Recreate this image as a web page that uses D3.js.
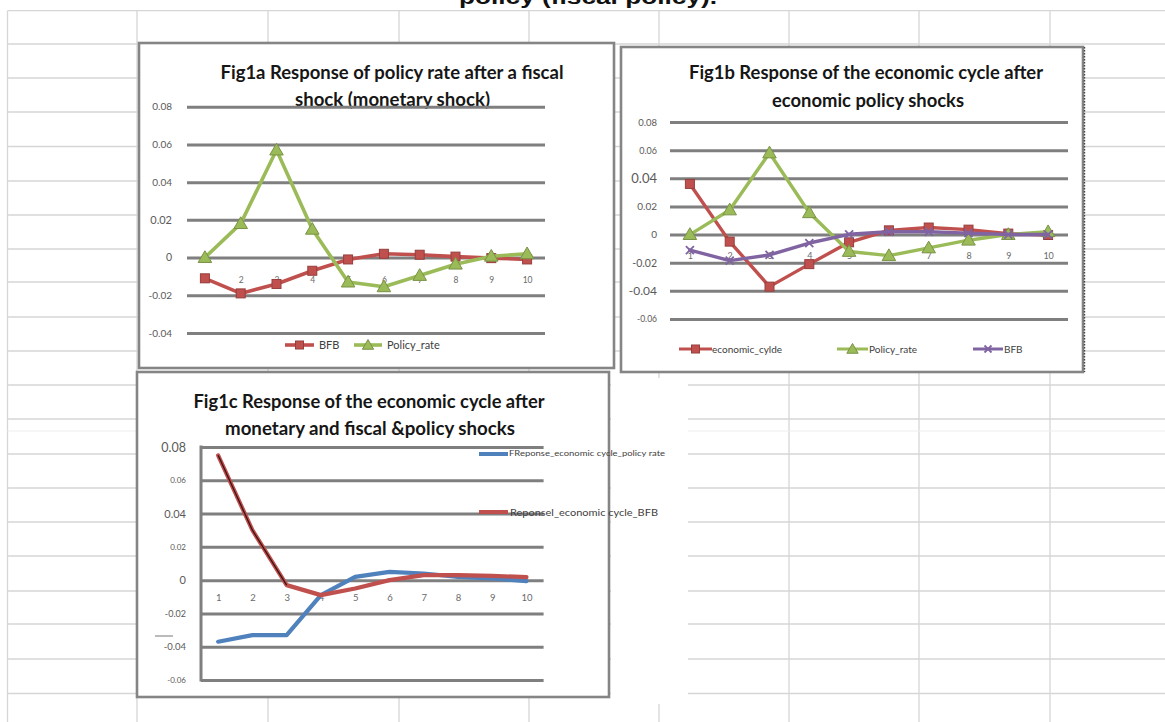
<!DOCTYPE html>
<html><head><meta charset="utf-8">
<script src="https://cdn.jsdelivr.net/npm/d3@7"></script>
<style>
html,body{margin:0;padding:0;background:#fff;}
svg{display:block;}
</style></head><body>
<svg id="c" width="1165" height="722"></svg>
<script>
// ---------------- DATA ----------------
const periods = ["1","2","3","4","5","6","7","8","9","10"];

const yTicksA = [-0.04,-0.02,0,0.02,0.04,0.06,0.08];
const yTickLabelsA = ["-0.04","-0.02","0","0.02","0.04","0.06","0.08"];
const yTicksB = [-0.06,-0.04,-0.02,0,0.02,0.04,0.06,0.08];
const yTickLabelsB = ["-0.06","-0.04","-0.02","0","0.02","0.04","0.06","0.08"];
const yTicksC = [-0.06,-0.04,-0.02,0,0.02,0.04,0.06,0.08];
const yTickLabelsC = ["-0.06","-0.04","-0.02","0","0.02","0.04","0.06","0.08"];

// Fig1a
const figA_BFB    = [-0.011,-0.019,-0.014,-0.007,-0.001,0.002,0.0015,0.0005,-0.0003,-0.001];
const figA_Policy = [0,0.018,0.057,0.015,-0.013,-0.0155,-0.0095,-0.0035,0.0007,0.002];
// Fig1b
const figB_Cycle  = [0.036,-0.005,-0.037,-0.021,-0.0055,0.003,0.005,0.0035,0.0007,-0.0003];
const figB_Policy = [0,0.0175,0.058,0.0155,-0.012,-0.015,-0.0095,-0.004,0,0.002];
const figB_BFB    = [-0.011,-0.0185,-0.0145,-0.006,0.0002,0.002,0.002,0.001,0,0];
// Fig1c
const figC_Policy = [-0.037,-0.033,-0.033,-0.009,0.002,0.005,0.004,0.002,0.001,-0.0006];
const figC_BFB    = [0.075,0.030,-0.003,-0.009,-0.005,0,0.003,0.003,0.0026,0.0018];

const pageTitle = "policy (fiscal policy).";
const titlesA = ["Fig1a Response of policy rate after a fiscal","shock (monetary shock)"];
const titlesB = ["Fig1b Response of the economic cycle after","economic policy shocks"];
const titlesC = ["Fig1c Response of the economic cycle after","monetary and fiscal &policy shocks"];
const namesA = ["BFB","Policy_rate"];
const namesB = ["economic_cylde","Policy_rate","BFB"];
const namesC = ["FReponse_economic cycle_policy rate","Reponsel_economic cycle_BFB"];

// ---------------- DRAW ----------------
const svg = d3.select("#c");
svg.append("rect").attr("width",1165).attr("height",722).attr("fill","#fff");

const RED="#c0504d", GREEN="#9bbb59", PURPLE="#8064a2", BLUE="#4f81bd";
const FONT = "Lato, 'Open Sans', 'DejaVu Sans', sans-serif";

// spreadsheet grid
const colX = [7.5,137,268,399,529,659,789,919,1050];
const rowY = [10.7,44,78,112,146.5,181,215,249,282,317,351,385,419,454,488,522,556,591,624,659,693.5];
const grid = svg.append("g");
colX.forEach(x => grid.append("line").attr("x1",x).attr("x2",x).attr("y1",10.7).attr("y2",722)
  .attr("stroke","#d6d6d6").attr("stroke-width",1.3));
rowY.forEach(y => grid.append("line").attr("x1",7.5).attr("x2",1165).attr("y1",y).attr("y2",y)
  .attr("stroke","#d6d6d6").attr("stroke-width",1.3));
grid.append("line").attr("x1",7.5).attr("x2",1165).attr("y1",431).attr("y2",431)
  .attr("stroke","#eeeeee").attr("stroke-width",1.2);
grid.append("rect").attr("x",611).attr("y",378).attr("width",77).attr("height",326).attr("fill","#fff");

// page title (cut off at top)
svg.append("text").attr("x",588).attr("y",4).attr("text-anchor","middle")
  .attr("font-family","'Liberation Sans', Arial, sans-serif").attr("font-weight",700)
  .attr("font-size",20).attr("textLength",258).attr("lengthAdjust","spacingAndGlyphs")
  .attr("fill","#111").text(pageTitle);

function marker(g, type, cx, cy, color, s) {
  const dk = d3.color(color).darker(0.7).toString();
  if (type === "square") {
    g.append("rect").attr("x",cx-s/2).attr("y",cy-s/2).attr("width",s).attr("height",s)
      .attr("fill",color).attr("stroke",dk).attr("stroke-width",1);
  } else if (type === "triangle") {
    g.append("path").attr("d",d3.symbol(d3.symbolTriangle, s*s*0.55)())
      .attr("transform",`translate(${cx},${cy+1})`).attr("fill",color).attr("stroke",dk).attr("stroke-width",1);
  } else if (type === "x") {
    const h = s/2;
    g.append("path").attr("d",`M${cx-h},${cy-h}L${cx+h},${cy+h}M${cx-h},${cy+h}L${cx+h},${cy-h}`)
      .attr("stroke",color).attr("stroke-width",1.8).attr("fill","none");
  }
}

function drawChart(cfg) {
  const g = svg.append("g");
  const f = cfg.frame;
  g.append("rect").attr("x",f.x).attr("y",f.y).attr("width",f.w).attr("height",f.h)
    .attr("fill","#fff").attr("stroke","#858585").attr("stroke-width",2.6);

  cfg.titles.forEach(t => {
    g.append("text").attr("x",t.cx).attr("y",t.y).attr("text-anchor","middle")
      .attr("font-family",FONT).attr("font-weight",700).attr("font-size",18.5)
      .attr("textLength",t.w).attr("lengthAdjust","spacingAndGlyphs")
      .attr("fill","#161616").text(t.text);
  });

  const p = cfg.plot;
  const x = d3.scalePoint().domain(periods).range([p.x0,p.x1]).padding(0.5);
  const y = d3.scaleLinear().domain(cfg.yDomain).range([p.yb,p.yt]);

  const ya = g.append("g").attr("transform",`translate(${p.x0},0)`)
    .call(d3.axisLeft(y).tickValues(cfg.yTicks).tickSize(-(p.x1-p.x0))
      .tickPadding(p.x0-cfg.labelRight).tickFormat((d,i)=>cfg.yLabels[i]));
  ya.select(".domain").remove();
  ya.selectAll(".tick line").attr("stroke","#7f7f7f").attr("stroke-width",3);
  ya.selectAll(".tick text").attr("fill","#5a5a5a").attr("font-family",FONT)
    .attr("font-size",(d,i)=>cfg.labelSizes[i]);

  if (cfg.axisLine) {
    g.append("line").attr("x1",p.x0).attr("x2",p.x0).attr("y1",p.yt-1.5).attr("y2",p.yb+1.5)
      .attr("stroke","#7f7f7f").attr("stroke-width",3);
  }

  const xa = g.append("g").attr("transform",`translate(0,${y(0)})`)
    .call(d3.axisBottom(x).tickSize(0));
  xa.select(".domain").remove();
  xa.selectAll(".tick text").attr("y",cfg.xLabelOffset).attr("dy","0.35em")
    .attr("fill","#6a6a6a").attr("font-family",FONT).attr("font-size",cfg.xLabelSize);

  const line = d3.line().x((d,i)=>x(periods[i])).y(d=>y(d));
  cfg.series.forEach(s => {
    g.append("path").attr("d",line(s.values)).attr("fill","none").attr("stroke",s.color)
      .attr("stroke-width",s.width).attr("stroke-linejoin","round").attr("stroke-linecap","round");
    if (s.shadowTo) {
      g.append("path").attr("d",line(s.values.slice(0,s.shadowTo))).attr("fill","none")
        .attr("stroke","#3b1414").attr("stroke-width",1.3).attr("stroke-linejoin","round");
    }
    if (s.marker) s.values.forEach((v,i)=>marker(g,s.marker,x(periods[i]),y(v),s.color,s.msize));
  });

  cfg.legend.forEach(L => {
    g.append("line").attr("x1",L.x1).attr("x2",L.x2).attr("y1",L.y).attr("y2",L.y)
      .attr("stroke",L.color).attr("stroke-width",L.width);
    if (L.marker) marker(g,L.marker,(L.x1+L.x2)/2,L.y,L.color,L.msize);
    const t = g.append("text").attr("x",L.tx).attr("y",L.y).attr("dy","0.35em")
      .attr("font-family",FONT).attr("font-size",L.size).attr("fill","#404040").text(L.text);
    if (L.tw) t.attr("textLength",L.tw).attr("lengthAdjust","spacingAndGlyphs");
  });
  return {g,x,y};
}

// Fig1a
drawChart({
  frame:{x:139,y:43,w:475,h:325},
  titles:[{text:titlesA[0],cx:392,y:79,w:343},{text:titlesA[1],cx:392.5,y:106,w:195}],
  plot:{x0:187,x1:545,yb:333,yt:106.7},
  yDomain:[-0.04,0.08], yTicks:yTicksA, yLabels:yTickLabelsA, labelRight:172,
  labelSizes:[10,10,10.5,11,10,10,10],
  xLabelOffset:22, xLabelSize:8.5,
  series:[
    {values:figA_BFB,color:RED,width:3.6,marker:"square",msize:9},
    {values:figA_Policy,color:GREEN,width:3.6,marker:"triangle",msize:12}
  ],
  legend:[
    {x1:285,x2:314,y:345,color:RED,width:3.6,marker:"square",msize:8,tx:319,text:namesA[0],size:11},
    {x1:354,x2:382,y:345,color:GREEN,width:3.6,marker:"triangle",msize:10,tx:387,text:namesA[1],size:11}
  ]
});

// Fig1b
drawChart({
  frame:{x:621,y:47,w:462,h:325},
  titles:[{text:titlesB[0],cx:866,y:79,w:354},{text:titlesB[1],cx:868,y:107,w:192}],
  plot:{x0:670,x1:1068,yb:319,yt:122},
  yDomain:[-0.06,0.08], yTicks:yTicksB, yLabels:yTickLabelsB, labelRight:657,
  labelSizes:[8.5,12,10.5,10,10,13,9,9.5],
  xLabelOffset:21.5, xLabelSize:9,
  series:[
    {values:figB_Cycle,color:RED,width:3.4,marker:"square",msize:9},
    {values:figB_Policy,color:GREEN,width:3.4,marker:"triangle",msize:12},
    {values:figB_BFB,color:PURPLE,width:3.4,marker:"x",msize:8}
  ],
  legend:[
    {x1:679,x2:712,y:349,color:RED,width:3,marker:"square",msize:8,tx:712,text:namesB[0],size:10},
    {x1:837,x2:868,y:349,color:GREEN,width:3,marker:"triangle",msize:10,tx:869,text:namesB[1],size:10},
    {x1:973,x2:1003,y:349,color:PURPLE,width:3,marker:"x",msize:7,tx:1004,text:namesB[2],size:10}
  ]
});
// dark dotted right edge of Fig1b frame
svg.append("line").attr("x1",1084.5).attr("x2",1084.5).attr("y1",47).attr("y2",372)
  .attr("stroke","#444").attr("stroke-width",1.4).attr("stroke-dasharray","1.5,1.5");

// Fig1c
const C = drawChart({
  frame:{x:137,y:372,w:472,h:325},
  titles:[{text:titlesC[0],cx:369,y:408,w:351},{text:titlesC[1],cx:370,y:435,w:290}],
  plot:{x0:201,x1:543.6,yb:680,yt:447},
  yDomain:[-0.06,0.08], yTicks:yTicksC, yLabels:yTickLabelsC, labelRight:186,
  labelSizes:[8,9.5,9,11,8,11,8,12.5],
  xLabelOffset:18, xLabelSize:9.5, axisLine:true,
  series:[
    {values:figC_Policy,color:BLUE,width:4.2},
    {values:figC_BFB,color:RED,width:4.2,shadowTo:3}
  ],
  legend:[
    {x1:479,x2:508,y:454,color:BLUE,width:4,tx:509,text:namesC[0],size:7,tw:156},
    {x1:479,x2:508,y:512,color:RED,width:4,tx:510,text:namesC[1],size:10,tw:148}
  ]
});
// small stray dash left of the -0.04 label in Fig1c
svg.append("line").attr("x1",155).attr("x2",173).attr("y1",636).attr("y2",636)
  .attr("stroke","#777").attr("stroke-width",1);
</script>
</body></html>
